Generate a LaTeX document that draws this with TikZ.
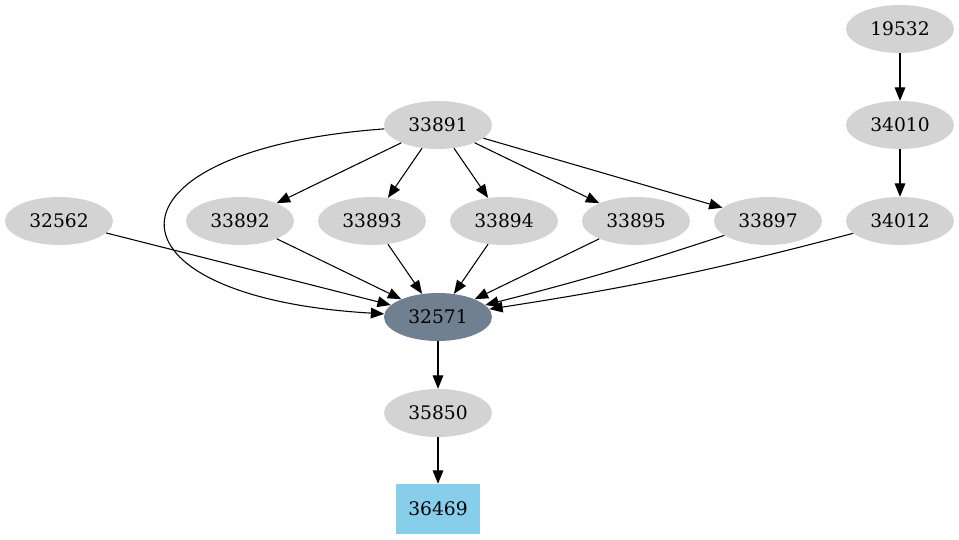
\documentclass[tikz,border=0pt]{standalone}
\usepackage{fontspec}
\setmainfont{DejaVu Serif}
\usetikzlibrary{arrows.meta,shapes.geometric}
\definecolor{ltgray}{HTML}{D3D3D3}
\definecolor{slate}{HTML}{708090}
\definecolor{sky}{HTML}{87CEEB}

\begin{document}
\begin{tikzpicture}[x=.75pt,y=.75pt,
  ell/.style={ellipse,fill=ltgray,inner sep=0pt,minimum width=81pt,minimum height=36pt,font=\fontsize{14}{16}\selectfont},
  hub/.style={ell,fill=slate},
  leaf/.style={rectangle,fill=sky,inner sep=0pt,minimum width=63pt,minimum height=37.5pt,font=\fontsize{14}{16}\selectfont},
  arr/.style={-{Triangle[length=10pt,width=8pt]},line width=.8pt}]
\useasboundingbox (0,0) rectangle (959,539);

\node[ell] (n19532) at (900,510) {19532};
\node[ell] (n34010) at (900,414) {34010};
\node[ell] (n34012) at (900,318) {34012};
\node[ell] (n33891) at (438,414) {33891};

\node[ell] (n32562) at (59,318) {32562};
\node[ell] (n33892) at (240,318) {33892};
\node[ell] (n33893) at (372,318) {33893};
\node[ell] (n33894) at (504,318) {33894};
\node[ell] (n33895) at (636,318) {33895};
\node[ell] (n33897) at (768,318) {33897};

\node[hub] (n32571) at (438,222) {32571};
\node[ell] (n35850) at (438,126) {35850};
\node[leaf] (n36469) at (438,30) {36469};

\draw[arr] (n19532) -- (n34010);
\draw[arr] (n34010) -- (n34012);

\foreach \m in {33892,33893,33894,33895,33897}
  \draw[arr] (n33891) -- (n\m);
\draw[arr] (n33891) .. controls +(-345,-25) and +(-345,20) .. (n32571);

\foreach \m in {32562,33892,33893,33894,33895}
  \draw[arr] (n\m) -- (n32571);
\draw[arr] (n33897) to[bend left=2] (n32571);
\draw[arr] (n34012) to[bend left=3] (n32571);

\draw[arr] (n32571) -- (n35850);
\draw[arr] (n35850) -- (n36469);
\end{tikzpicture}
\end{document}
